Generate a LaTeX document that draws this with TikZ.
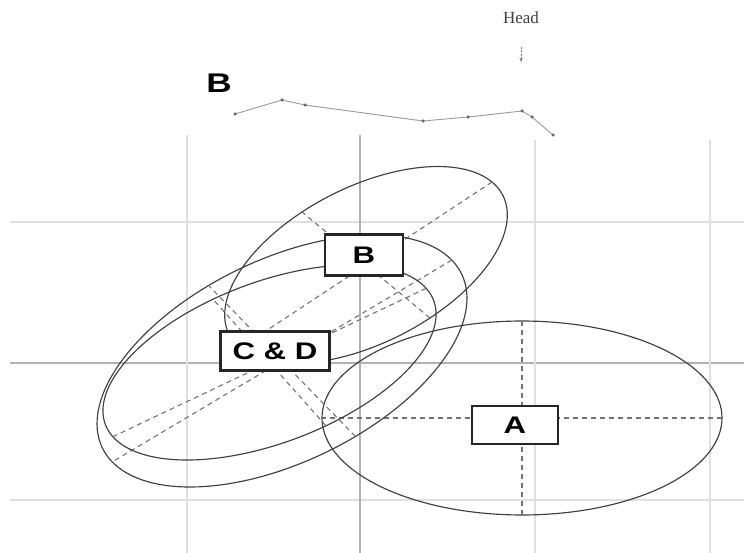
\documentclass[tikz,border=0pt]{standalone}
\usepackage{fontspec}
\setmainfont{Liberation Serif}
\newfontfamily\lblfont{Liberation Sans}
\usetikzlibrary{arrows.meta}
\newcommand\drawEll[7]{%
  \coordinate (#7c) at (#1,#2);
  \coordinate (#7u1) at ({#1+(#3)},{#2+(#4)});
  \coordinate (#7u2) at ({#1-(#3)},{#2-(#4)});
  \coordinate (#7v1) at ({#1+(#5)},{#2+(#6)});
  \coordinate (#7v2) at ({#1-(#5)},{#2-(#6)});
  \draw[ellline] plot[domain=0:360,samples=145,variable=\t]
     ({#1+(#3)*cos(\t)+(#5)*sin(\t)},{#2+(#4)*cos(\t)+(#6)*sin(\t)}) -- cycle;
  \draw[axisline] (#7u1) -- (#7u2);
  \draw[axisline] (#7v1) -- (#7v2);
}
\begin{document}
\begin{tikzpicture}[x=1pt,y=-1pt,
  gridlight/.style={draw=black!12, line width=1.8pt},
  griddark/.style={draw=black!30, line width=1.3pt},
  ellline/.style={draw=black!75, line width=1.15pt},
  axisline/.style={draw=black!55, line width=1.1pt, dash pattern=on 5pt off 4pt},
  labelbox/.style={draw=black!85, line width=2.2pt, fill=white, inner sep=0pt,
     font=\lblfont\bfseries\fontsize{24}{24}\selectfont},
  trail/.style={draw=black!40, line width=0.9pt},
  dotpt/.style={circle, fill=black!60, inner sep=0pt, minimum size=3.5pt}
]
\fill[white] (0,0) rectangle (744,553);
\useasboundingbox (0,0) rectangle (744,553);

% grid
\draw[gridlight] (10,222) -- (744,222);
\draw[gridlight] (10,500) -- (744,500);
\draw[griddark] (10,363) -- (744,363);
\draw[gridlight] (187,135) -- (187,553);
\draw[griddark] (360,135) -- (360,553);
\draw[gridlight] (535,140) -- (535,553);
\draw[gridlight] (710,140) -- (710,553);

% ellipses with their axes
\drawEll{522}{418}{200}{0}{0}{97}{ea}
\drawEll{366}{265}{126}{-83}{64}{53}{eb}
\drawEll{282}{361}{169.8}{-100.9}{73.4}{75.5}{ed}
\drawEll{269.5}{362.5}{156.7}{-74.2}{56.5}{63.3}{ec}

% label boxes
\node[labelbox, minimum width=78pt, minimum height=41pt] (bB) at (364,255) {\scalebox{1.3}[1]{B}};
\node[labelbox, minimum width=109pt, minimum height=39pt] (bCD) at (275,351) {\scalebox{1.3}[1]{C \& D}};
\node[labelbox, minimum width=86pt, minimum height=38pt] (bA) at (515,425) {\scalebox{1.3}[1]{A}};

% top trajectory
\node[font=\lblfont\bfseries\fontsize{27}{27}\selectfont] (bigB) at (219,83) {\scalebox{1.3}[1]{B}};
\coordinate (p1) at (235,114);
\coordinate (p2) at (282,100);
\coordinate (p3) at (305,105);
\coordinate (p4) at (423,121);
\coordinate (p5) at (468,117);
\coordinate (p6) at (522,111);
\coordinate (p7) at (532,117);
\coordinate (p8) at (553,135);
\draw[trail] (p1) -- (p2) -- (p3) -- (p4) -- (p5) -- (p6) -- (p7) -- (p8);
\foreach \p in {p1,p2,p3,p4,p5,p6,p7,p8} \node[dotpt] at (\p) {};
\node[font=\fontsize{17}{17}\selectfont, text=black!75] (head) at (521,18) {Head};
\coordinate (harrow) at (521,62);
\draw[draw=black!55, line width=0.9pt, dash pattern=on 2pt off 1.5pt, -{Stealth[length=4pt,width=3pt]}] (521,47) -- (harrow);
\end{tikzpicture}
\end{document}
